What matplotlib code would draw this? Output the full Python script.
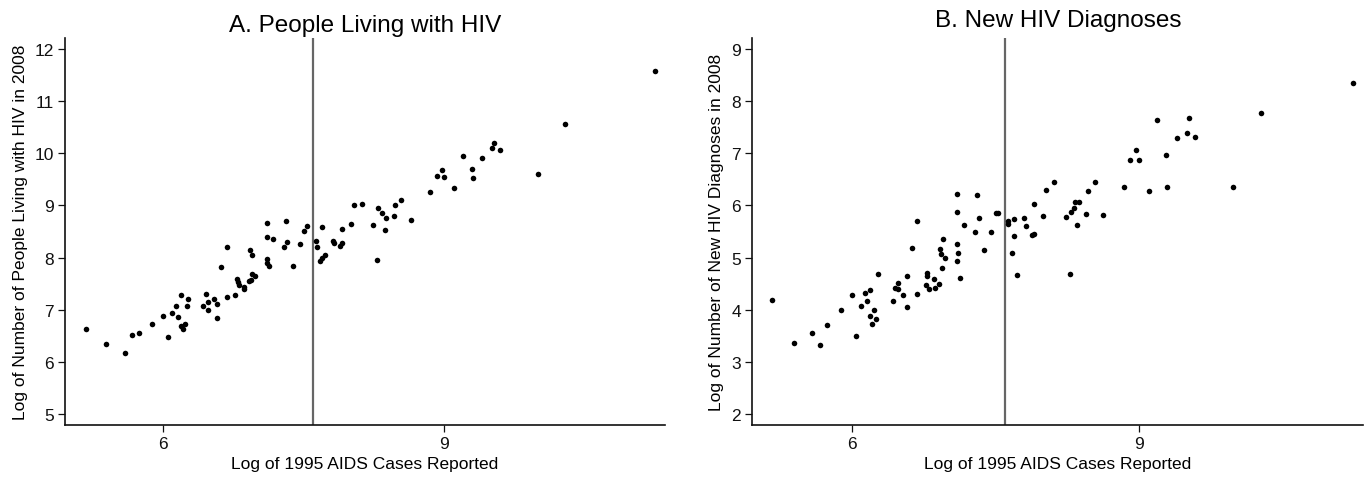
import matplotlib
matplotlib.use("Agg")
import matplotlib.pyplot as plt

# Panel A: log 1995 AIDS cases vs log people living with HIV in 2008
x_living = [5.176, 5.389, 5.588, 5.667, 5.745, 5.884, 6.000, 6.046, 6.097, 6.134,
            6.153, 6.194, 6.194, 6.208, 6.231, 6.255, 6.269, 6.426, 6.454, 6.481,
            6.481, 6.537, 6.574, 6.574, 6.620, 6.681, 6.685, 6.769, 6.787, 6.792,
            6.806, 6.861, 6.866, 6.917, 6.931, 6.949, 6.977, 6.926, 6.949, 7.106,
            7.111, 7.111, 7.111, 7.130, 7.167, 7.287, 7.310, 7.324, 7.389, 7.458,
            7.505, 7.532, 7.630, 7.639, 7.694, 7.676, 7.694, 7.722, 7.806, 7.819,
            7.889, 7.912, 7.912, 8.005, 8.032, 8.116, 8.241, 8.282, 8.292, 8.333,
            8.361, 8.380, 8.458, 8.472, 8.537, 8.639, 8.843, 8.921, 8.977, 9.000,
            9.106, 9.194, 9.296, 9.306, 9.398, 9.509, 9.532, 9.597, 9.995, 10.282,
            11.250]
y_living = [6.636, 6.341, 6.175, 6.514, 6.559, 6.725, 6.885, 6.482, 6.942, 7.070,
            6.859, 7.281, 6.680, 6.636, 6.725, 7.070, 7.211, 7.064, 7.301, 7.000,
            7.147, 7.198, 7.115, 6.847, 7.825, 8.208, 7.243, 7.288, 7.588, 7.524,
            7.480, 7.428, 7.390, 7.543, 7.575, 7.678, 7.646, 8.151, 8.042, 8.400,
            8.656, 7.978, 7.895, 7.838, 8.355, 8.208, 8.694, 8.298, 7.838, 8.266,
            8.515, 8.605, 8.324, 8.202, 8.586, 7.927, 7.991, 8.053, 8.317, 8.285,
            8.215, 8.272, 8.547, 8.643, 9.014, 9.033, 8.624, 7.946, 8.950, 8.861,
            8.534, 8.765, 8.790, 9.001, 9.104, 8.714, 9.257, 9.564, 9.679, 9.551,
            9.334, 9.948, 9.692, 9.526, 9.903, 10.101, 10.191, 10.069, 9.609, 10.561,
            11.584]

# Panel B: log 1995 AIDS cases vs log new HIV diagnoses in 2008
x_new = [5.166, 5.387, 5.581, 5.659, 5.742, 5.885, 6.000, 6.041, 6.088, 6.134,
         6.152, 6.189, 6.189, 6.207, 6.230, 6.249, 6.272, 6.424, 6.452, 6.479,
         6.479, 6.535, 6.571, 6.576, 6.622, 6.682, 6.682, 6.770, 6.788, 6.788,
         6.806, 6.862, 6.866, 6.908, 6.922, 6.926, 6.945, 6.949, 6.977, 7.101,
         7.101, 7.101, 7.106, 7.101, 7.134, 7.166, 7.290, 7.309, 7.327, 7.378,
         7.456, 7.502, 7.530, 7.627, 7.636, 7.677, 7.691, 7.696, 7.724, 7.802,
         7.816, 7.885, 7.908, 7.903, 8.000, 8.028, 8.111, 8.244, 8.276, 8.286,
         8.327, 8.336, 8.355, 8.378, 8.452, 8.470, 8.539, 8.631, 8.843, 8.912,
         8.968, 9.000, 9.106, 9.189, 9.286, 9.300, 9.396, 9.507, 9.525, 9.594,
         9.991, 10.281, 11.244]
y_new = [4.186, 3.368, 3.553, 3.330, 3.713, 3.988, 4.282, 3.496, 4.078, 4.327,
         4.174, 3.873, 4.378, 3.732, 3.995, 3.828, 4.685, 4.174, 4.410, 4.519,
         4.398, 4.282, 4.046, 4.647, 5.190, 5.708, 4.308, 4.480, 4.698, 4.640,
         4.398, 4.589, 4.410, 4.493, 5.171, 5.075, 4.800, 5.350, 4.992, 6.219,
         5.880, 5.254, 5.088, 4.934, 4.608, 5.618, 5.490, 6.200, 5.759, 5.152,
         5.490, 5.855, 5.855, 5.637, 5.695, 5.094, 5.407, 5.746, 4.666, 5.765,
         5.599, 5.439, 5.452, 6.027, 5.791, 6.302, 6.443, 5.778, 4.691, 5.874,
         5.944, 6.072, 5.618, 6.060, 5.842, 6.270, 6.456, 5.816, 6.347, 6.871,
         7.057, 6.865, 6.283, 7.645, 6.974, 6.360, 7.287, 7.383, 7.677, 7.319,
         6.347, 7.779, 8.361]

cutoff = 7.6
plt.rcParams['font.family'] = ['Liberation Sans', 'DejaVu Sans']

fig = plt.figure(figsize=(13.69, 4.81), dpi=100)
ax1 = fig.add_axes([0.0477, 0.1137, 0.4379, 0.8046])
ax2 = fig.add_axes([0.5495, 0.1137, 0.4463, 0.8046])

panels = [
    (ax1, x_living, y_living, 'A. People Living with HIV',
     'Log of Number of People Living with HIV in 2008', (4.78, 12.21), range(5, 13), 5.5),
    (ax2, x_new, y_new, 'B. New HIV Diagnoses',
     'Log of Number of New HIV Diagnoses in 2008', (1.78, 9.21), range(2, 10), 9),
]

for ax, xs, ys, title, ylabel, ylim, yticks, pad in panels:
    ax.scatter(xs, ys, s=16, color='black', linewidths=0, zorder=3)
    ax.axvline(cutoff, color='#666666', lw=1.6, zorder=2)
    ax.set_xlim(4.955, 11.35)
    ax.set_ylim(*ylim)
    ax.set_xticks([6, 9])
    ax.set_yticks(list(yticks))
    ax.spines['top'].set_visible(False)
    ax.spines['right'].set_visible(False)
    for s in ('left', 'bottom'):
        ax.spines[s].set_linewidth(1.2)
        ax.spines[s].set_color('#111111')
    ax.tick_params(direction='out', length=5, width=0.9, labelsize=12.5,
                   pad=3, colors='#111111')
    ax.set_xlabel('Log of 1995 AIDS Cases Reported', fontsize=12.5, labelpad=3)
    ax.set_ylabel(ylabel, fontsize=12.5, labelpad=5)
    ax.set_title(title, fontsize=17.5, pad=pad)

fig.savefig('out.png', dpi=100)
